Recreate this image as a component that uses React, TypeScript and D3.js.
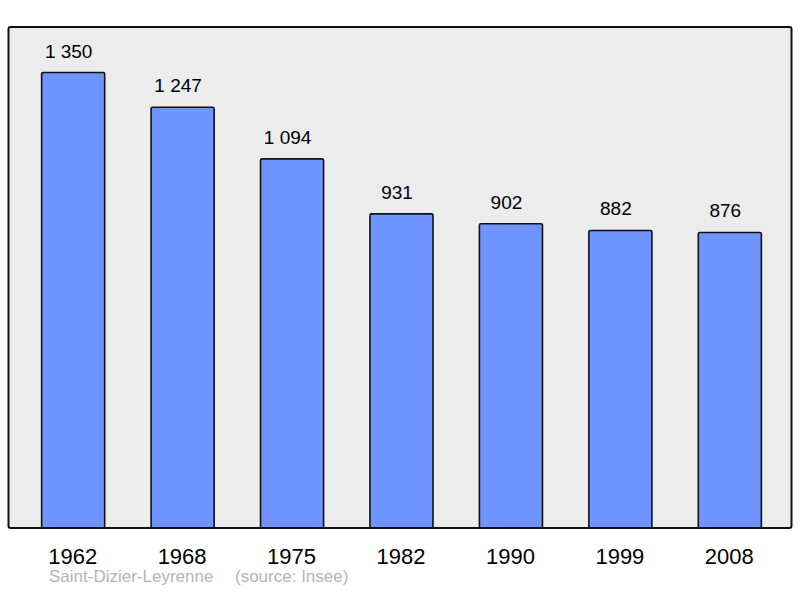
import React from "react";
import * as d3 from "d3";

const years = ["1962", "1968", "1975", "1982", "1990", "1999", "2008"];
const population = [1350, 1247, 1094, 931, 902, 882, 876];
const commune = "Saint-Dizier-Leyrenne";
const source = "(source: Insee)";

const W = 800;
const H = 598;
const frame = { left: 8.5, top: 27, right: 791.5, bottom: 528 };

export default function App() {
  const x = d3
    .scaleBand<string>()
    .domain(years)
    .range([11, 792])
    .paddingInner(0.424)
    .paddingOuter(0.28);
  const y = d3
    .scaleLinear()
    .domain([0, d3.max(population)! * 1.1])
    .range([frame.bottom, frame.top]);
  const fmt = (v: number) => d3.format(",")(v).replace(/,/g, " ");

  return (
    <svg
      width={W}
      height={H}
      style={{ position: "absolute", left: 0, top: 0, fontFamily: "Liberation Sans, Arial, sans-serif" }}
    >
      <rect x={0} y={0} width={W} height={H} fill="#ffffff" />
      <rect
        x={frame.left}
        y={frame.top}
        width={frame.right - frame.left}
        height={frame.bottom - frame.top}
        fill="#ececec"
        stroke="none"
      />
      {years.map((yr, i) => {
        const v = population[i];
        const bx = x(yr)!;
        const bw = x.bandwidth();
        return (
          <g key={yr}>
            <rect
              x={bx}
              y={y(v)}
              width={bw}
              height={frame.bottom - y(v)}
              fill="#7094ff"
              stroke="#111"
              strokeWidth={1.6}
              rx={1.5}
            />
            <text
              x={bx + bw / 2 - 4.5}
              y={y(v) - 15}
              textAnchor="middle"
              fontSize={19}
              fill="#000"
            >
              {fmt(v)}
            </text>
            <text
              x={bx + bw / 2 - 0.5}
              y={564}
              textAnchor="middle"
              fontSize={22}
              fill="#000"
            >
              {yr}
            </text>
          </g>
        );
      })}
      <rect
        x={frame.left}
        y={frame.top}
        width={frame.right - frame.left}
        height={frame.bottom - frame.top}
        fill="none"
        stroke="#111"
        strokeWidth={2}
        rx={2}
      />
      <text x={49} y={582} fontSize={17} fill="#b4b4b4">
        {commune}
      </text>
      <text x={235} y={582} fontSize={17} fill="#b4b4b4">
        {source}
      </text>
    </svg>
  );
}
